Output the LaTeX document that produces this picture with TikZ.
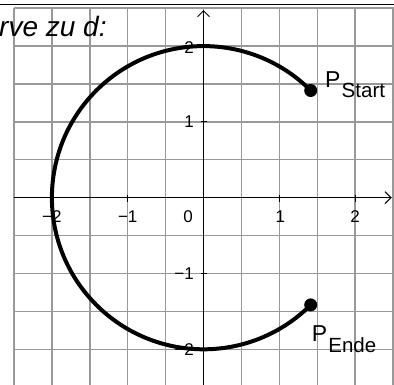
\documentclass[tikz,border=0pt]{standalone}
\usepackage{fontspec}
\setmainfont{Liberation Sans}
\usetikzlibrary{arrows.meta}
\begin{document}
\begin{tikzpicture}[
  gridline/.style={draw=black!40, line width=1.4pt},
  axisline/.style={draw=black, line width=1pt, -{Straight Barb[length=6pt,width=12pt]}},
  tickmark/.style={draw=black, line width=1pt},
  ticklabel/.style={inner sep=0pt, font=\fontsize{17}{20}\selectfont},
  curveline/.style={draw=black, line width=4pt},
  pointdot/.style={circle, fill=black, inner sep=0pt, minimum size=13pt},
  plabel/.style={inner sep=0pt, anchor=base west, font=\fontsize{23}{27}\selectfont}
]
\useasboundingbox (0,0) rectangle (394pt,-385pt);
\clip (0,0) rectangle (394pt,-385pt);
\coordinate (tl) at (0,-4.5pt);
\coordinate (tr) at (394pt,-4.5pt);
\draw[line width=1pt] (tl) -- (tr);
\begin{scope}[shift={(203.5pt,-197.7pt)}, x=75.8pt, y=75.8pt]
  \foreach \k in {-2.5,-2,-1.5,-1,-0.5,0,0.5,1,1.5,2,2.5} {
    \draw[gridline] (\k,-2.6) -- (\k,2.5);
    \draw[gridline] (-2.5,\k) -- (2.6,\k);
  }
  \coordinate (xs) at (-2.5,0);
  \coordinate (xe) at (2.483,0);
  \coordinate (ys) at (0,-2.6);
  \coordinate (ye) at (0,2.476);
  \draw[axisline] (xs) -- (xe);
  \draw[axisline] (ys) -- (ye);
  \foreach \k in {-2,-1,1,2} {
    \draw[tickmark] (\k,0) ++(0,3pt) -- ++(0,-7pt);
    \draw[tickmark] (0,\k) ++(-3pt,0) -- ++(6pt,0);
  }
  \node[ticklabel, anchor=north] (xm2) at ([yshift=-13pt]-2,0) {−2};
  \node[ticklabel, anchor=north] (xm1) at ([yshift=-13pt]-1,0) {−1};
  \node[ticklabel, anchor=north] (x0) at ([xshift=-15.5pt,yshift=-13pt]0,0) {0};
  \node[ticklabel, anchor=north] (x1) at ([xshift=1pt,yshift=-13pt]1,0) {1};
  \node[ticklabel, anchor=north] (x2) at ([yshift=-13pt]2,0) {2};
  \node[ticklabel, anchor=east] (y2) at ([xshift=-9.5pt,yshift=-1.5pt]0,2) {2};
  \node[ticklabel, anchor=east] (y1) at ([xshift=-9.5pt]0,1) {1};
  \node[ticklabel, anchor=east] (ym1) at ([xshift=-9.5pt]0,-1) {−1};
  \node[ticklabel, anchor=east] (ym2) at ([xshift=-9.5pt]0,-2) {−2};
  \node[pointdot] (ps) at (45:2) {};
  \node[pointdot] (pe) at (-45:2) {};
  \draw[curveline] (ps.center) arc[start angle=45, end angle=315, radius=2];
\end{scope}
\node[plabel] (lstart) at (325pt,-87.3pt) {P\hspace{1.2pt}\raisebox{-10.5pt}{\fontsize{20.5}{24}\selectfont Start}};
\node[plabel] (lende) at (311.6pt,-341pt) {P\hspace{1.2pt}\raisebox{-11.3pt}{\fontsize{20.5}{24}\selectfont Ende}};
\node[inner sep=0pt, anchor=base west, font=\fontsize{28}{32}\selectfont\itshape] (title) at (-1pt,-36.7pt) {rve zu d:};
\end{tikzpicture}
\end{document}
